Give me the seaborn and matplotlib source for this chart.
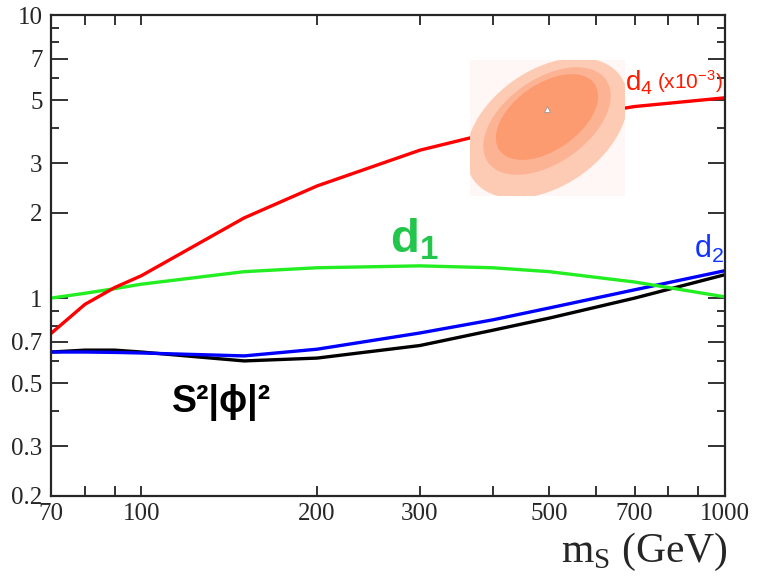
import numpy as np
import pandas as pd
import matplotlib
matplotlib.use("Agg")
import matplotlib.pyplot as plt
from matplotlib.patches import Ellipse
from matplotlib.ticker import FixedLocator, FixedFormatter, NullFormatter
import seaborn as sns

# values
mass = [70, 80, 90, 100, 150, 200, 300, 400, 500, 700, 1000]
d4 = [0.75, 0.95, 1.09, 1.20, 1.92, 2.49, 3.33, 3.85, 4.25, 4.75, 5.1]
d1 = [1.0, 1.04, 1.08, 1.12, 1.24, 1.28, 1.30, 1.28, 1.24, 1.14, 1.01]
d2 = [0.645, 0.645, 0.643, 0.64, 0.625, 0.66, 0.753, 0.838, 0.923, 1.07, 1.25]
s2phi2 = [0.645, 0.655, 0.655, 0.645, 0.60, 0.614, 0.68, 0.77, 0.85, 1.0, 1.21]

series = {"d4": d4, "d1": d1, "d2": d2, "S2phi2": s2phi2}
colors = {"d4": "#ff0000", "d1": "#22ee22", "d2": "#0000ff", "S2phi2": "#000000"}

x_ticks = [70, 100, 200, 300, 500, 700, 1000]
x_minor = [80, 90, 400, 600, 800, 900]
y_ticks = [0.2, 0.3, 0.5, 0.7, 1, 2, 3, 5, 7, 10]
y_labels = ["0.2", "0.3", "0.5", "0.7", "1", "2", "3", "5", "7", "10"]
y_minor = [0.4, 0.6, 0.8, 0.9, 4, 6, 8, 9]

rows = []
for name, vals in series.items():
    for m, v in zip(mass, vals):
        rows.append({"mass": m, "value": v, "series": name})
df = pd.DataFrame(rows)

sns.set_style("ticks")
plt.rcParams["mathtext.fontset"] = "custom"
plt.rcParams["mathtext.rm"] = "Liberation Serif"
plt.rcParams["mathtext.sf"] = "Liberation Sans"
plt.rcParams["mathtext.bf"] = "Liberation Sans:bold"

fig = plt.figure(figsize=(7.58, 5.82), dpi=100)
ax = fig.add_axes([51 / 758, 1 - 496 / 582, 674 / 758, 481 / 582])

sns.lineplot(data=df, x="mass", y="value", hue="series", palette=colors,
             linewidth=2.4, legend=False, ax=ax, hue_order=["S2phi2", "d2", "d1", "d4"])

ax.set_xscale("log")
ax.set_yscale("log")
ax.set_xlim(70, 1000)
ax.set_ylim(0.2, 10)

ax.xaxis.set_major_locator(FixedLocator(x_ticks))
ax.xaxis.set_major_formatter(FixedFormatter([str(t) for t in x_ticks]))
ax.xaxis.set_minor_locator(FixedLocator(x_minor))
ax.xaxis.set_minor_formatter(NullFormatter())
ax.yaxis.set_major_locator(FixedLocator(y_ticks))
ax.yaxis.set_major_formatter(FixedFormatter(y_labels))
ax.yaxis.set_minor_locator(FixedLocator(y_minor))
ax.yaxis.set_minor_formatter(NullFormatter())

for lab in ax.get_xticklabels() + ax.get_yticklabels():
    lab.set_fontfamily("Liberation Serif")
    lab.set_fontsize(18)

ax.tick_params(axis="both", which="both", direction="in", top=True, right=True,
               width=1.3, color="#222222")
ax.tick_params(axis="y", which="major", length=12, pad=6)
ax.tick_params(axis="y", which="minor", length=6)
ax.tick_params(axis="x", which="major", length=7, pad=5)
ax.tick_params(axis="x", which="minor", length=7)
for sp in ax.spines.values():
    sp.set_linewidth(1.6)
ax.set_xlabel("")
ax.set_ylabel("")

fig.text(728 / 758, 1 - 552 / 582, r"m$_\mathrm{S}$ (GeV)", ha="right", va="center",
         fontsize=30, family="Liberation Serif")

# curve labels
ax.text(0.503, 0.507, r"$\mathbf{d}_{\mathbf{1}}$", color="#22c64a", fontsize=34,
        ha="left", va="baseline", transform=ax.transAxes)
ax.text(0.999, 0.495, r"$\mathsf{d}_{\mathsf{2}}$", color="#1133ff", fontsize=22,
        ha="right", va="baseline", transform=ax.transAxes)
ax.text(0.852, 0.844, r"$\mathsf{d}_{\mathsf{4}}$", color="#ff1a00", fontsize=20,
        ha="left", va="baseline", transform=ax.transAxes)
ax.text(0.899, 0.846, r"(x10$^{\mathsf{-3}}$)", color="#ff1a00", fontsize=15,
        family="Liberation Sans", ha="left", va="baseline", transform=ax.transAxes)
ax.text(0.18, 0.195, "S²|ϕ|²", color="black", fontsize=27, fontweight="bold",
        family=["Liberation Sans", "DejaVu Sans"], ha="left", va="center",
        transform=ax.transAxes)

# inset ellipse picture
ins = fig.add_axes([470 / 758, 1 - 196 / 582, 155 / 758, 136 / 582])
ins.set_xlim(470, 625)
ins.set_ylim(196, 60)
ins.set_facecolor("#fff7f5")
for sp in ins.spines.values():
    sp.set_visible(False)
ins.set_xticks([])
ins.set_yticks([])
ins.add_patch(Ellipse((547, 128), 180, 116, angle=-35, color="#fdcbb4", lw=0))
ins.add_patch(Ellipse((547, 121), 144, 84, angle=-35, color="#fcb394", lw=0))
ins.add_patch(Ellipse((547, 117), 116, 66, angle=-35, color="#fc9a70", lw=0))
ins.plot([547], [109], marker="^", ms=5, mfc="white", mec="#999999", mew=0.6)

fig.savefig("out.png", dpi=100)
